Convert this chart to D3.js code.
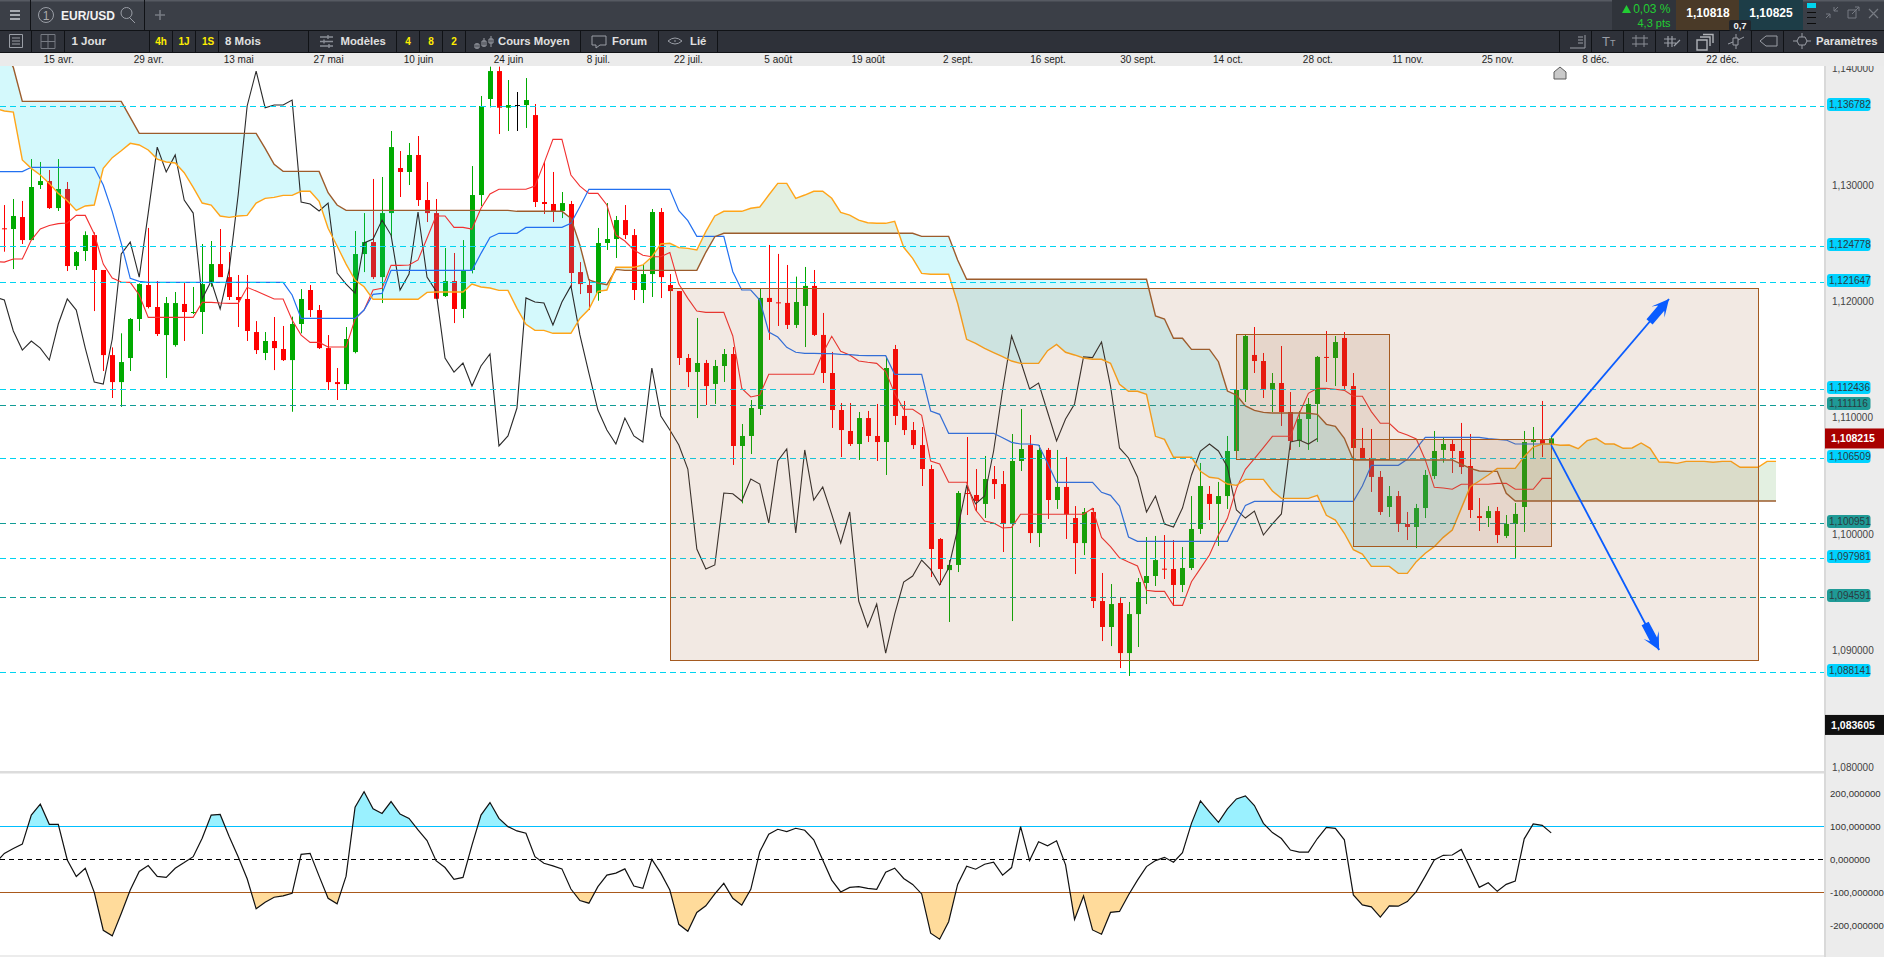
<!DOCTYPE html>
<html>
<head>
<meta charset="utf-8">
<title>EUR/USD</title>
<script src="https://cdn.jsdelivr.net/npm/d3@7"></script>
<style>
html, body { margin: 0; padding: 0; background: #fff; overflow: hidden; }
svg { display: block; font-family: "Liberation Sans", Arial, sans-serif; }
</style>
</head>
<body>
<svg id="chart" width="1884" height="957"></svg>
<script>
'use strict';

/******************** candles, one entry per trading day ********************/

var highs = [
1.12827,1.12879,1.12862,1.13222,1.13197,1.13128,1.13222,1.13025,1.12432,1.12601,
1.12592,1.12269,1.11604,1.11725,1.11856,1.12154,1.1263,1.12174,1.12037,1.1208,
1.12157,1.12123,1.12492,1.12518,1.12621,1.12423,1.12226,1.12226,1.1183,1.11736,
1.11865,1.11788,1.11868,1.12105,1.1214,1.11968,1.1171,1.11427,1.11779,1.12604,
1.12758,1.13051,1.13068,1.13463,1.13291,1.1336,1.1342,1.13025,1.12879,1.12458,
1.12415,1.12526,1.13162,1.13764,1.14016,1.14016,1.13901,1.13798,1.13918,1.13695,
1.13197,1.13111,1.12939,1.12862,1.12337,1.12191,1.1263,1.12844,1.12733,1.12827,
1.12621,1.12312,1.12793,1.12801,1.12234,1.12088,1.11547,1.11857,1.11496,1.11496,
1.1159,1.11607,1.10946,1.11152,1.12112,1.12484,1.12407,1.12312,1.12212,1.12295,
1.12269,1.119,1.11565,1.11126,1.11126,1.11049,1.11058,1.11118,1.11524,1.11625,
1.11144,1.10963,1.1092,1.10594,1.09966,1.09777,1.1037,1.10834,1.10559,1.10671,
1.10585,1.10542,1.1086,1.11075,1.10851,1.10765,1.1074,1.10723,1.10662,1.10241,
1.10224,1.10224,1.09666,1.09571,1.0946,1.09417,1.09623,1.09975,1.09984,1.09992,
1.09949,1.09889,1.10327,1.10611,1.10413,1.10448,1.10843,1.11238,1.11711,1.11779,
1.11556,1.11384,1.11616,1.11221,1.11058,1.11169,1.1153,1.11745,1.11702,1.11736,
1.11384,1.10912,1.10903,1.10542,1.10413,1.1037,1.1019,1.10259,1.10551,1.10886,
1.10826,1.10808,1.10955,1.1086,1.1031,1.10241,1.10233,1.10164,1.10267,1.10886,
1.1092,1.11144,1.10843];

var lows = [
1.12426,1.12277,1.12492,1.12526,1.12965,1.12793,1.12776,1.1226,1.12269,1.12346,
1.11916,1.11401,1.11169,1.11094,1.11401,1.11745,1.11939,1.11702,1.11341,1.1161,
1.11659,1.11891,1.11719,1.12125,1.12211,1.12011,1.11779,1.11659,1.11547,1.11495,
1.11409,1.11487,1.11051,1.11725,1.11865,1.1159,1.11238,1.11152,1.11238,1.11553,
1.12251,1.12191,1.11985,1.12555,1.12896,1.12999,1.12819,1.12681,1.1202,1.12037,
1.11813,1.11856,1.1224,1.12819,1.13666,1.13437,1.13463,1.13463,1.13489,1.1281,
1.1275,1.12681,1.12715,1.12125,1.12062,1.11925,1.12005,1.12441,1.12372,1.12535,
1.12011,1.11985,1.12037,1.12028,1.12088,1.11453,1.11263,1.10997,1.11109,1.11118,
1.11307,1.10594,1.10264,1.10688,1.11023,1.11668,1.11788,1.11762,1.11771,1.11607,
1.11702,1.11298,1.10912,1.10662,1.10757,1.10637,1.10791,1.10628,1.10508,1.10937,
1.10851,1.10731,1.10413,1.09631,1.09563,1.09245,1.09674,1.10164,1.10198,1.10138,
1.10302,1.09846,1.09253,1.10542,1.09923,1.09889,1.1013,1.10216,1.09958,1.09657,
1.0982,1.09365,1.09081,1.09038,1.08849,1.08781,1.0903,1.09399,1.09554,1.09614,
1.09391,1.09502,1.09691,1.10001,1.10121,1.09898,1.10216,1.10714,1.11135,1.11384,
1.11169,1.11049,1.10929,1.10723,1.10748,1.10723,1.10791,1.11307,1.11272,1.11247,
1.10723,1.10645,1.10362,1.10164,1.10147,1.10018,1.09949,1.0988,1.10138,1.10473,
1.10614,1.10525,1.10516,1.10138,1.10027,1.10061,1.09923,1.09966,1.09795,1.10018,
1.10645,1.10662,1.10731];

var opens = [
1.12627,1.12621,1.12724,1.12526,1.12999,1.13033,1.12801,1.12965,1.12303,1.12432,
1.12569,1.12269,1.11538,1.11306,1.11513,1.11848,1.1214,1.11951,1.1171,1.11624,
1.11977,1.11905,1.11908,1.12166,1.1232,1.12208,1.12037,1.1202,1.11736,1.11556,
1.11659,1.1159,1.11495,1.11805,1.12097,1.11925,1.11598,1.11306,1.11289,1.11564,
1.12406,1.12509,1.12208,1.12758,1.13145,1.13111,1.13257,1.1287,1.12758,1.12045,
1.12174,1.11934,1.12269,1.12913,1.13738,1.13978,1.13663,1.13686,1.13686,1.136,
1.12853,1.12836,1.12776,1.12836,1.12251,1.1214,1.12071,1.12501,1.12535,1.12698,
1.12569,1.12097,1.12234,1.12767,1.1214,1.12088,1.11513,1.11393,1.1147,1.1129,
1.11444,1.11547,1.10757,1.10843,1.11075,1.12029,1.11991,1.11986,1.11797,1.1196,
1.12132,1.11711,1.11384,1.11066,1.10886,1.10774,1.10997,1.10843,1.10791,1.1159,
1.11015,1.10894,1.10765,1.10559,1.09958,1.09691,1.09735,1.10353,1.10336,1.10259,
1.10473,1.1043,1.10095,1.10628,1.10765,1.10009,1.10723,1.10293,1.10405,1.10138,
1.09923,1.1019,1.09425,1.09202,1.09408,1.08978,1.09313,1.0958,1.0964,1.09703,
1.097,1.09563,1.09709,1.10044,1.10345,1.10259,1.10327,1.10714,1.11238,1.11539,
1.11487,1.11247,1.11298,1.11049,1.108,1.10989,1.11118,1.11522,1.11513,1.11685,
1.11272,1.1074,1.10654,1.10491,1.10233,1.10327,1.10087,1.10061,1.10224,1.10499,
1.10723,1.10774,1.10714,1.10585,1.10155,1.10138,1.10198,1.09984,1.10087,1.10233,
1.10791,1.10808,1.10774];

var closes = [
1.12621,1.12733,1.12526,1.12982,1.13033,1.12801,1.12965,1.12303,1.12423,1.12569,
1.12269,1.11538,1.11306,1.11478,1.11848,1.12148,1.11951,1.11719,1.11985,1.11985,
1.11908,1.11908,1.12148,1.1232,1.12208,1.12037,1.12011,1.11745,1.11581,1.11659,
1.11598,1.11495,1.11805,1.1202,1.11925,1.11598,1.11306,1.11289,1.11676,1.12406,
1.12509,1.12208,1.12758,1.13325,1.13111,1.13257,1.1287,1.12758,1.12022,1.12174,
1.11934,1.12269,1.12913,1.13678,1.13978,1.13663,1.13686,1.13686,1.13729,1.12853,
1.12836,1.12776,1.12844,1.12243,1.12148,1.12071,1.12501,1.12535,1.12698,1.12569,
1.12097,1.12234,1.12767,1.12208,1.12088,1.11513,1.11392,1.1147,1.11272,1.11444,
1.11547,1.10757,1.10843,1.11083,1.12029,1.11994,1.11985,1.11797,1.11994,1.12132,
1.11711,1.11384,1.11066,1.10894,1.10774,1.10997,1.10843,1.10791,1.11427,1.11015,
1.10894,1.10765,1.10559,1.09872,1.097,1.09735,1.10353,1.10347,1.10284,1.10473,
1.1043,1.10095,1.10628,1.10731,1.10009,1.10723,1.10293,1.10405,1.1017,1.09923,
1.1019,1.09425,1.09202,1.09399,1.08978,1.09313,1.09588,1.0964,1.09777,1.09697,
1.09563,1.09709,1.10044,1.10413,1.10259,1.10327,1.10714,1.11238,1.11702,1.11487,
1.11247,1.11298,1.11049,1.108,1.10989,1.11118,1.11522,1.11516,1.1165,1.11272,
1.1074,1.10654,1.10491,1.1019,1.10327,1.10087,1.10061,1.10224,1.10508,1.10714,
1.10774,1.10714,1.10576,1.10207,1.10138,1.10198,1.09992,1.10087,1.10173,1.10791,
1.10808,1.10774,1.10822];

/******************** ichimoku lines, first value is the day before the candles ********************/

var tenkan = [1.1234,
1.12337,1.12363,1.12363,1.12526,1.12621,1.12652,1.12667,1.12673,1.12738,1.12738,
1.12578,1.1232,1.122,1.12166,1.12163,1.12054,1.11862,1.11862,1.11862,1.11862,
1.11862,1.11862,1.11991,1.11991,1.11985,1.11982,1.11982,1.1212,1.12088,1.12054,
1.1202,1.1202,1.11839,1.1171,1.11647,1.11647,1.11607,1.11607,1.11607,1.11848,
1.11925,1.12097,1.12111,1.12309,1.12309,1.12312,1.12355,1.12541,1.12733,1.12733,
1.12635,1.12635,1.12621,1.12799,1.12922,1.12962,1.12962,1.12962,1.12962,1.1299,
1.13185,1.13391,1.13391,1.13085,1.1299,1.12927,1.12927,1.12827,1.12569,1.12518,
1.12441,1.12395,1.12383,1.12383,1.1242,1.12148,1.12025,1.11917,1.11905,1.11905,
1.11905,1.11702,1.11252,1.11178,1.11195,1.11373,1.11373,1.11373,1.11373,1.11373,
1.11373,1.11553,1.11699,1.1157,1.11539,1.11487,1.11476,1.11467,1.11396,1.11209,
1.11072,1.11072,1.1102,1.10628,1.10602,1.10445,1.10445,1.10445,1.10207,1.10112,
1.10095,1.10052,1.10058,1.1017,1.1017,1.1017,1.1017,1.1017,1.1017,1.1017,
1.1017,1.10221,1.09972,1.09892,1.09797,1.0976,1.09726,1.09517,1.09508,1.09508,
1.09388,1.09388,1.09591,1.09706,1.0982,1.09992,1.10135,1.10393,1.10556,1.10648,
1.10743,1.1084,1.1084,1.1084,1.11038,1.11209,1.11252,1.11252,1.11244,1.11235,
1.11184,1.11184,1.11052,1.10952,1.10952,1.1088,1.10851,1.10817,1.10637,1.10402,
1.10396,1.10385,1.10428,1.10428,1.10428,1.10428,1.10436,1.10436,1.10385,1.10385,
1.10385,1.10479,1.10479];

var kijun = [1.13114,
1.13114,1.13114,1.13114,1.13151,1.13151,1.13151,1.13151,1.13151,1.13151,1.13151,
1.13151,1.12999,1.1277,1.12498,1.12197,1.12171,1.12163,1.12163,1.12163,1.12163,
1.12163,1.12163,1.12163,1.12163,1.12163,1.12163,1.12163,1.12163,1.12163,1.12163,
1.12163,1.12163,1.12054,1.11853,1.11853,1.11853,1.11853,1.11853,1.11853,1.11853,
1.11925,1.1206,1.12068,1.12266,1.12266,1.12266,1.12266,1.12266,1.12266,1.12266,
1.12266,1.12266,1.12266,1.12412,1.12549,1.12584,1.12584,1.12584,1.12635,1.12635,
1.12635,1.12635,1.12635,1.1267,1.12813,1.12962,1.12962,1.12962,1.12962,1.12962,
1.12962,1.12962,1.12962,1.12962,1.12962,1.12779,1.12693,1.12558,1.12558,1.12558,
1.12558,1.12254,1.12097,1.12097,1.12011,1.11736,1.11693,1.11605,1.11562,1.11553,
1.11553,1.1155,1.1155,1.11544,1.11542,1.11536,1.11533,1.11533,1.11533,1.11373,
1.11373,1.11373,1.11373,1.11058,1.11029,1.10866,1.10866,1.10866,1.10866,1.10866,
1.10866,1.10828,1.10788,1.10774,1.10774,1.10765,1.10608,1.10445,1.10445,1.10445,
1.10445,1.10445,1.10359,1.10333,1.10241,1.09975,1.09938,1.09938,1.09938,1.09938,
1.09938,1.09938,1.09938,1.09938,1.09938,1.09938,1.09938,1.10092,1.10247,1.10281,
1.10281,1.10281,1.10281,1.10281,1.10281,1.10281,1.10281,1.10281,1.10281,1.10281,
1.10281,1.10413,1.10591,1.10591,1.10591,1.10591,1.10642,1.10737,1.10831,1.10831,
1.10831,1.10831,1.10831,1.10831,1.10831,1.1082,1.10814,1.10808,1.10774,1.10774,
1.10774,1.10774,1.10774];

// these two run 25 days past the last candle
var senkouA = [1.13658,
1.13635,1.13626,1.13214,1.13142,1.13085,1.13013,1.12927,1.12864,1.12781,1.12819,
1.12827,1.13142,1.13234,1.13294,1.13357,1.13343,1.133,1.13222,1.13197,1.13188,
1.13105,1.12979,1.12844,1.12827,1.12733,1.12721,1.12733,1.12738,1.12844,1.12884,
1.12893,1.1291,1.1291,1.12945,1.12945,1.12859,1.12627,1.12475,1.1232,1.12183,
1.12125,1.12017,1.12017,1.12017,1.12017,1.12017,1.12017,1.12077,1.1208,1.1208,
1.1208,1.1208,1.12148,1.12123,1.12114,1.12094,1.12094,1.11939,1.11802,1.1175,
1.1175,1.11725,1.11725,1.11725,1.11853,1.11931,1.12085,1.12097,1.12292,1.12292,
1.12292,1.12312,1.12383,1.12492,1.12498,1.12461,1.12455,1.12441,1.12598,1.12733,
1.12773,1.12773,1.12773,1.12799,1.1281,1.12913,1.13013,1.13013,1.12885,1.12913,
1.12945,1.12945,1.12885,1.12764,1.12741,1.12698,1.12675,1.1267,1.1267,1.12687,
1.12464,1.12369,1.1224,1.12232,1.12232,1.12232,1.11983,1.11673,1.11639,1.11596,
1.11559,1.11524,1.11487,1.11467,1.11467,1.11467,1.11576,1.1163,1.11562,1.11539,
1.11513,1.11502,1.11502,1.11467,1.11287,1.11227,1.11227,1.11201,1.1084,1.10814,
1.1066,1.1066,1.1066,1.10539,1.10488,1.10479,1.1043,1.10419,1.1047,1.1047,
1.1047,1.1037,1.10307,1.10307,1.10307,1.10307,1.10333,1.10161,1.10121,1.10007,
1.09866,1.09829,1.09723,1.09723,1.09723,1.09663,1.09663,1.09763,1.09835,1.09892,
1.09972,1.10035,1.10221,1.10407,1.10456,1.10508,1.10565,1.10565,1.10565,1.10665,
1.10748,1.10774,1.10774,1.10763,1.10765,1.10734,1.10803,1.10823,1.10774,1.10774,
1.10737,1.1074,1.10783,1.10737,1.10619,1.10617,1.10608,1.10625,1.10625,1.10625,
1.10617,1.10625,1.10625,1.10574,1.10574,1.10574,1.10625,1.10625];

var senkouB = [1.14188,
1.14159,1.1401,1.13718,1.13718,1.13718,1.13718,1.13718,1.13718,1.13718,1.13718,
1.13718,1.13718,1.13718,1.13718,1.1358,1.13443,1.13443,1.13443,1.13443,1.13443,
1.13443,1.13443,1.13443,1.13443,1.13443,1.13443,1.13443,1.13443,1.13443,1.13314,
1.13177,1.13116,1.13116,1.13116,1.13116,1.13116,1.12933,1.12827,1.12781,1.12781,
1.12781,1.12781,1.12781,1.12781,1.12781,1.12781,1.12781,1.12781,1.12781,1.12781,
1.12781,1.12781,1.12781,1.12781,1.12781,1.12781,1.12781,1.12773,1.12773,1.12773,
1.12773,1.12773,1.12773,1.12713,1.12483,1.12183,1.12157,1.12143,1.12274,1.12266,
1.12266,1.12266,1.12266,1.12266,1.12266,1.12266,1.12266,1.12266,1.12421,1.12555,
1.12584,1.12584,1.12584,1.12584,1.12584,1.12584,1.12584,1.12584,1.12584,1.12584,
1.12584,1.12584,1.12584,1.12584,1.12584,1.12584,1.12584,1.12584,1.12584,1.12584,
1.12584,1.12584,1.12558,1.12558,1.12558,1.12558,1.12355,1.12189,1.12189,1.12189,
1.12189,1.12189,1.12189,1.12189,1.12189,1.12189,1.12189,1.12189,1.12189,1.12189,
1.12189,1.12189,1.12189,1.12189,1.12189,1.12189,1.12189,1.12189,1.11874,1.11848,
1.11682,1.11682,1.11587,1.11587,1.11587,1.11481,1.11229,1.11195,1.11101,1.11063,
1.11046,1.1104,1.1104,1.1104,1.1104,1.11038,1.11029,1.10943,1.10926,1.10823,
1.10637,1.10637,1.10637,1.10637,1.10637,1.10637,1.10637,1.10637,1.10637,1.10637,
1.10637,1.10637,1.10602,1.10565,1.10542,1.10539,1.10539,1.1035,1.10284,1.10284,
1.10284,1.10284,1.10284,1.10284,1.10284,1.10284,1.10284,1.10284,1.10284,1.10284,
1.10284,1.10284,1.10284,1.10284,1.10284,1.10284,1.10284,1.10284,1.10284,1.10284,
1.10284,1.10284,1.10284,1.10284,1.10284,1.10284,1.10284,1.10284];

var cci = [-12,
18,33,46,134,167,106,106,-2,-52,-27,
-100,-215,-232,-164,-93,-37,-19,-52,-55,-27,
-10,8,64,134,136,69,8,-59,-150,-130,
-115,-111,-103,15,18,-51,-118,-135,-51,158,
205,153,139,175,137,124,89,57,-4,-25,
-61,-55,43,134,172,124,99,86,79,8,
-12,-20,-29,-90,-125,-133,-83,-48,-42,-29,
-81,-88,0,-42,-93,-197,-218,-161,-141,-105,
-73,-118,-139,-91,23,76,91,84,94,88,
59,-2,-63,-99,-85,-83,-88,-91,-39,-27,
-58,-76,-105,-224,-242,-189,-76,-21,-30,-15,
-9,-48,-25,99,-4,53,41,56,-17,-182,
-111,-214,-227,-161,-158,-108,-63,-22,-4,6,
-9,20,109,177,144,112,153,183,192,163,
109,81,63,28,22,22,63,97,94,59,
-108,-138,-144,-175,-141,-142,-128,-98,-51,-2,
12,13,30,-27,-85,-71,-97,-76,-66,62,
107,103,80];

/******************** levels, boxes, arrows, axis labels ********************/

var levelPrices = [1.136782, 1.124778, 1.121647, 1.112436, 1.111116, 1.106509, 1.100951, 1.097981, 1.094591, 1.088141];
var tealLevels = [1.111116, 1.100951, 1.094591];

var boxStarts = [74, 137, 150];
var boxEnds = [195, 154, 172];
var boxTops = [1.12112, 1.11716, 1.10814];
var boxBottoms = [1.08916, 1.10643, 1.09895];

var arrowTipDays = [185.1, 184];
var arrowTipPrices = [1.1202, 1.09004];
var arrowFromPrices = [1.10833, 1.10765];

var priceTicks = [1.08, 1.09, 1.10, 1.11, 1.12, 1.13, 1.14];
var cciTicks = [-200, -100, 0, 100, 200];

var dateDays = [6, 16, 26, 36, 46, 56, 66, 76, 86, 96, 106, 116, 126, 136, 146, 156, 166, 176.9, 191];
var dateLabels = ['15 avr.', '29 avr.', '13 mai', '27 mai', '10 juin', '24 juin', '8 juil.', '22 juil.', '5 août', '19 août', '2 sept.', '16 sept.', '30 sept.', '14 oct.', '28 oct.', '11 nov.', '25 nov.', '8 déc.', '22 déc.'];

var lastPrice = 1.108215;
var lowMarker = 1.083605;

/******************** scales ********************/

var svg = d3.select('#chart');
var plotRight = 1824;
var x = d3.scaleLinear().domain([0, 172]).range([4.33, 1551.2]);
var y = d3.scaleLinear().domain([1.08, 1.12]).range([766.9, 301.3]);
var yCci = d3.scaleLinear().domain([-100, 100]).range([892.3, 826.3]);

var commaFormat = function(v) { return d3.format('.6f')(v).replace('.', ',').replace('\u2212', '-'); };

var defs = svg.append('defs');
defs.append('clipPath').attr('id', 'plotClip').append('rect')
	.attr('x', 0).attr('y', 66).attr('width', plotRight).attr('height', 704);
defs.append('clipPath').attr('id', 'cciAbove').append('rect')
	.attr('x', 0).attr('y', 773).attr('width', plotRight).attr('height', yCci(100) - 773);
defs.append('clipPath').attr('id', 'cciBelow').append('rect')
	.attr('x', 0).attr('y', yCci(-100)).attr('width', plotRight).attr('height', 955 - yCci(-100));

/******************** price panel ********************/

var plot = svg.append('g').attr('clip-path', 'url(#plotClip)');

// candles first, the cloud lies over them
var days = d3.range(closes.length);
var candleColor = function(i) {
	if (closes[i] === opens[i]) return '#000';
	return closes[i] > opens[i] ? '#00aa00' : '#ff0000';
};
var candles = plot.append('g').attr('class', 'candles').selectAll('g').data(days).join('g');
candles.append('line')
	.attr('x1', function(i) { return Math.round(x(i)) + 0.5; })
	.attr('x2', function(i) { return Math.round(x(i)) + 0.5; })
	.attr('y1', function(i) { return y(highs[i]); })
	.attr('y2', function(i) { return y(lows[i]); })
	.attr('stroke', candleColor).attr('stroke-width', 1);
candles.append('rect')
	.attr('x', function(i) { return Math.round(x(i)) - 2; })
	.attr('width', 5)
	.attr('y', function(i) { return y(Math.max(opens[i], closes[i])); })
	.attr('height', function(i) { return Math.max(1, Math.abs(y(opens[i]) - y(closes[i]))); })
	.attr('fill', candleColor);

// cloud: green where span A is above span B, light blue where it is below
var pairs = senkouA.map(function(a, i) { return { day: i - 1, a: a, b: senkouB[i] }; });
var xDay = function(d) { return x(d.day); };
defs.append('clipPath').attr('id', 'aboveB').append('path')
	.attr('d', d3.area().x(xDay).y0(0).y1(function(d) { return y(d.b); })(pairs));
defs.append('clipPath').attr('id', 'belowB').append('path')
	.attr('d', d3.area().x(xDay).y0(770).y1(function(d) { return y(d.b); })(pairs));
var cloud = d3.area().x(xDay).y0(function(d) { return y(d.b); }).y1(function(d) { return y(d.a); });
plot.append('path').attr('d', cloud(pairs)).attr('clip-path', 'url(#aboveB)').attr('fill', 'rgba(60,150,40,0.14)');
plot.append('path').attr('d', cloud(pairs)).attr('clip-path', 'url(#belowB)').attr('fill', 'rgba(0,220,238,0.17)');

// every series starts one day left of the first candle
var seriesLine = d3.line().x(function(d, i) { return x(i - 1); }).y(function(d) { return y(d); });
var drawLine = function(values, color, width) {
	plot.append('path').attr('d', seriesLine(values))
		.attr('fill', 'none').attr('stroke', color).attr('stroke-width', width);
};
drawLine(closes.slice(25), '#2a2a2a', 1.1);   // lagging line: the close 26 days back
drawLine(tenkan, '#f23030', 1.1);
drawLine(kijun, '#2270f0', 1.2);
drawLine(senkouB, '#9c5c2c', 1.4);
drawLine(senkouA, '#ffa519', 1.4);

plot.append('g').selectAll('line').data(levelPrices).join('line')
	.attr('x1', 0).attr('x2', plotRight)
	.attr('y1', function(d) { return Math.round(y(d)) + 0.5; })
	.attr('y2', function(d) { return Math.round(y(d)) + 0.5; })
	.attr('stroke', function(d) { return tealLevels.indexOf(d) >= 0 ? '#129c96' : '#00d4f0'; })
	.attr('stroke-width', 1).attr('stroke-dasharray', '6,4');

plot.append('g').selectAll('rect').data(boxStarts).join('rect')
	.attr('x', function(d) { return Math.round(x(d)) + 0.5; })
	.attr('y', function(d, i) { return Math.round(y(boxTops[i])) + 0.5; })
	.attr('width', function(d, i) { return Math.round(x(boxEnds[i]) - x(d)); })
	.attr('height', function(d, i) { return Math.round(y(boxBottoms[i]) - y(boxTops[i])); })
	.attr('fill', 'rgba(162,98,55,0.14)').attr('stroke', '#a55a20').attr('stroke-width', 1);

// two blue arrows out of the last candle
arrowTipDays.forEach(function(day, i) {
	var tipX = x(day), tipY = y(arrowTipPrices[i]);
	var fromX = x(172), fromY = y(arrowFromPrices[i]);
	var angle = Math.atan2(tipY - fromY, tipX - fromX) * 180 / Math.PI;
	plot.append('line').attr('x1', fromX).attr('y1', fromY).attr('x2', tipX).attr('y2', tipY)
		.attr('stroke', '#0a5cff').attr('stroke-width', 1.8);
	plot.append('path')
		.attr('transform', 'translate(' + tipX + ',' + tipY + ') rotate(' + angle + ')')
		.attr('d', 'M0,0 L-17,-8.5 L-12,-4 L-30,-4 L-30,4 L-12,4 L-17,8.5 Z')
		.attr('fill', '#0a5cff');
});

// small marker below the date band
svg.append('path').attr('d', 'M1560,67 L1566,72 L1566,79 L1554,79 L1554,72 Z')
	.attr('fill', '#c9c9c9').attr('stroke', '#5a5a5a').attr('stroke-width', 1);

/******************** CCI panel ********************/

var cciPlot = svg.append('g');
var cciArea = d3.area().x(function(d, i) { return x(i - 1); }).y1(function(d) { return yCci(d); });
cciPlot.append('path').attr('d', cciArea.y0(yCci(100))(cci)).attr('clip-path', 'url(#cciAbove)').attr('fill', '#9af1ff');
cciPlot.append('path').attr('d', cciArea.y0(yCci(-100))(cci)).attr('clip-path', 'url(#cciBelow)').attr('fill', '#ffdb9b');
cciPlot.append('line').attr('x1', 0).attr('x2', plotRight).attr('y1', Math.round(yCci(100)) + 0.5).attr('y2', Math.round(yCci(100)) + 0.5)
	.attr('stroke', '#00bfff');
cciPlot.append('line').attr('x1', 0).attr('x2', plotRight).attr('y1', Math.round(yCci(-100)) + 0.5).attr('y2', Math.round(yCci(-100)) + 0.5)
	.attr('stroke', '#a9591b');
cciPlot.append('line').attr('x1', 0).attr('x2', plotRight).attr('y1', Math.round(yCci(0)) + 0.5).attr('y2', Math.round(yCci(0)) + 0.5)
	.attr('stroke', '#000').attr('stroke-dasharray', '5,4');
cciPlot.append('path')
	.attr('d', d3.line().x(function(d, i) { return x(i - 1); }).y(function(d) { return yCci(d); })(cci))
	.attr('fill', 'none').attr('stroke', '#111').attr('stroke-width', 1.2);

svg.append('rect').attr('x', 0).attr('y', 771).attr('width', 1884).attr('height', 2.5).attr('fill', '#dcdcdc');
svg.append('rect').attr('x', 0).attr('y', 955).attr('width', 1884).attr('height', 2).attr('fill', '#ececec');

/******************** right axis ********************/

svg.append('rect').attr('x', plotRight).attr('y', 66).attr('width', 60).attr('height', 891).attr('fill', '#ececec');
svg.append('rect').attr('x', plotRight).attr('y', 66).attr('width', 2).attr('height', 891).attr('fill', '#d9d9d9');

var priceAxis = svg.append('g').attr('transform', 'translate(1832,0)')
	.call(d3.axisRight(y).tickValues(priceTicks).tickSize(0).tickPadding(0).tickFormat(commaFormat));
priceAxis.select('.domain').remove();
priceAxis.selectAll('text').attr('font-size', 10).attr('font-family', 'inherit').attr('fill', '#444');

var cciAxis = svg.append('g').attr('transform', 'translate(1830,0)')
	.call(d3.axisRight(yCci).tickValues(cciTicks).tickSize(0).tickPadding(0).tickFormat(commaFormat));
cciAxis.select('.domain').remove();
cciAxis.selectAll('text').attr('font-size', 9.6).attr('font-family', 'inherit').attr('fill', '#333');

var levelTags = svg.append('g').selectAll('g').data(levelPrices).join('g')
	.attr('transform', function(d) { return 'translate(1827,' + (Math.round(y(d)) - 8) + ')'; });
levelTags.append('rect').attr('width', 43.5).attr('height', 13).attr('rx', 3)
	.attr('fill', function(d) { return tealLevels.indexOf(d) >= 0 ? '#1f9a96' : '#00d2ff'; });
levelTags.append('text').attr('x', 2).attr('y', 10).attr('font-size', 10).attr('fill', '#2a3a40').text(commaFormat);

var drawPriceFlag = function(price, color) {
	var flagY = y(price);
	svg.append('rect').attr('x', 1825).attr('y', flagY - 10).attr('width', 59).attr('height', 20).attr('fill', color);
	svg.append('text').attr('x', 1853).attr('y', flagY + 4).attr('text-anchor', 'middle')
		.attr('font-size', 10.5).attr('font-weight', 'bold').attr('fill', '#fff').text(commaFormat(price));
};
drawPriceFlag(lastPrice, '#a80000');
drawPriceFlag(lowMarker, '#101010');

/******************** top bars ********************/

svg.append('rect').attr('x', 0).attr('y', 0).attr('width', 1884).attr('height', 53).attr('fill', '#101216');
svg.append('rect').attr('x', 0).attr('y', 0).attr('width', 1884).attr('height', 30).attr('fill', '#3b3f47');
svg.append('rect').attr('x', 0).attr('y', 0).attr('width', 1884).attr('height', 1.5).attr('fill', '#565a62');
svg.append('rect').attr('x', 0).attr('y', 31).attr('width', 1884).attr('height', 21).attr('fill', '#2e3139');
svg.append('rect').attr('x', 0).attr('y', 53).attr('width', 1884).attr('height', 13).attr('fill', '#ebebeb');

var dateAxis = svg.append('g').attr('transform', 'translate(0,56)')
	.call(d3.axisBottom(x).tickValues(dateDays).tickSize(0).tickPadding(0)
		.tickFormat(function(d, i) { return dateLabels[i]; }));
dateAxis.select('.domain').remove();
dateAxis.selectAll('text').attr('font-size', 10).attr('font-family', 'inherit').attr('fill', '#222');

var sep = function(px, y1, y2, color) {
	svg.append('line').attr('x1', px + 0.5).attr('x2', px + 0.5).attr('y1', y1).attr('y2', y2)
		.attr('stroke', color || '#101216').attr('stroke-width', 1);
};
[30, 144].forEach(function(px) { sep(px, 0, 30); });
[31, 64, 149, 172, 195, 218, 308, 396, 419, 442, 465, 580, 658, 717, 1559, 1591, 1623, 1655, 1687, 1719, 1751, 1783]
	.forEach(function(px) { sep(px, 31, 52); });

var label = function(px, py, text, size, color, weight, anchor) {
	svg.append('text').attr('x', px).attr('y', py).attr('font-size', size).attr('fill', color)
		.attr('font-weight', weight || 'normal').attr('text-anchor', anchor || 'start').text(text);
};
var white = '#e0e0e0', yellow = '#ffee00';

label(61, 19.5, 'EUR/USD', 12, '#f2f2f2', 'bold');
label(46, 19.5, '1', 12, '#aaa', 'normal', 'middle');
label(71.5, 45, '1 Jour', 11.5, white, 'bold');
label(161, 45, '4h', 10, yellow, 'bold', 'middle');
label(184, 45, '1J', 10, yellow, 'bold', 'middle');
label(208, 45, '1S', 10, yellow, 'bold', 'middle');
label(225, 45, '8 Mois', 11.5, white, 'bold');
label(340.5, 45, 'Modèles', 11.3, white, 'bold');
label(408, 45, '4', 10, yellow, 'bold', 'middle');
label(431, 45, '8', 10, yellow, 'bold', 'middle');
label(454, 45, '2', 10, yellow, 'bold', 'middle');
label(498, 45, 'Cours Moyen', 11.3, white, 'bold');
label(612, 45, 'Forum', 11.3, white, 'bold');
label(690, 45, 'Lié', 11.3, white, 'bold');
label(1816, 45, 'Paramètres', 11.3, white, 'bold');

// quote blocks on the right of the first row
svg.append('rect').attr('x', 1612).attr('y', 0).attr('width', 64).attr('height', 30).attr('fill', '#30343b');
svg.append('rect').attr('x', 1676).attr('y', 0).attr('width', 63).attr('height', 30).attr('fill', '#4a3a28');
svg.append('rect').attr('x', 1739).attr('y', 0).attr('width', 64).attr('height', 30).attr('fill', '#1d3d47');
label(1670.5, 13, '0,03 %', 12, '#22cc33', 'normal', 'end');
svg.append('path').attr('d', 'M1622,13 L1631,13 L1626.5,5 Z').attr('fill', '#22cc33');
label(1670.5, 27, '4,3 pts', 11, '#22cc33', 'normal', 'end');
label(1708, 16.5, '1,10818', 12, '#fff', 'bold', 'middle');
label(1771, 16.5, '1,10825', 12, '#fff', 'bold', 'middle');
svg.append('rect').attr('x', 1729).attr('y', 20).attr('width', 22).attr('height', 11).attr('rx', 2).attr('fill', '#22262c');
label(1740, 29, '0,7', 9.5, '#f2f2f2', 'bold', 'middle');
svg.append('rect').attr('x', 1807).attr('y', 3).attr('width', 9).attr('height', 5).attr('fill', '#00d4ee');
[12, 17, 23].forEach(function(py) {
	svg.append('rect').attr('x', 1807).attr('y', py).attr('width', 9).attr('height', 1).attr('fill', '#0c0c0c');
});

// icons are drawn by hand, thin gray strokes
var icon = function(d, color, width) {
	svg.append('path').attr('d', d).attr('fill', 'none')
		.attr('stroke', color || '#9a9ea6').attr('stroke-width', width || 1);
};
icon('M10,11H20M10,15H20M10,19H20', '#a8acb2', 2.2);
svg.append('circle').attr('cx', 46).attr('cy', 15).attr('r', 7.5).attr('fill', 'none').attr('stroke', '#9a9ea6');
icon('M121,13a5.5,5.5 0 1,0 11,0a5.5,5.5 0 1,0 -11,0 M130,18L135,23');
icon('M155,15H165M160,10V20', '#777b83', 1.6);
icon('M9.5,34.5H22.5V47.5H9.5Z M12,38H20M12,41H20M12,44H20');
icon('M41,34.5H55V48.5H41Z M48,34.5V48.5 M41,41.5H55', '#777b83');
icon('M320,37H333M320,41.5H333M320,46H333M328,35V39M324,39.5V43.5M329,44V48', '#8a8e96', 1.4);
icon('M477,43V49M484,38V47M491,36V47M475,44h4v4h-4Z M482,41h4v5h-4Z M489,39h4v4h-4Z');
icon('M592,36H606V45H600L596,48V45H592Z');
icon('M668,41Q675,35 682,41Q675,47 668,41Z M675,40v2');
icon('M1570,48H1585V35M1578,37H1583M1578,40H1583M1578,43H1583');
label(1602, 46, 'T', 13, '#9a9ea6');
label(1610, 46, 'T', 9, '#9a9ea6');
icon('M1636,35V47M1644,35V47M1632,38H1648M1632,44H1648', '#8a8e96', 1);
icon('M1668,36V47M1672,36V47M1664,39H1676M1664,43H1676M1674,46L1680,40', '#9a9ea6', 1.2);
icon('M1697,40H1707V50H1697Z M1700,37H1710V46M1703,34.5H1713V43', '#b0b3b8', 1.4);
icon('M1728,44L1733,42M1738,40L1744,37M1736,34V38M1736,45V49M1733,38H1738V45H1733Z');
icon('M1760,41L1766,36H1777V46H1766Z');
icon('M1797,41L1799,37H1805L1807,41L1805,45H1799Z M1793,41H1797M1807,41H1811M1802,33V37M1802,45V49');
icon('M1826,18L1830,14M1830,18V14H1826M1834,11L1838,7M1834,7V11H1838', '#777b83');
icon('M1848,10H1856V18H1848Z M1852,14L1859,7M1855,7H1859V11', '#777b83');
icon('M1869,9L1878,18M1878,9L1869,18', '#777b83', 1.2);
</script>
</body>
</html>
